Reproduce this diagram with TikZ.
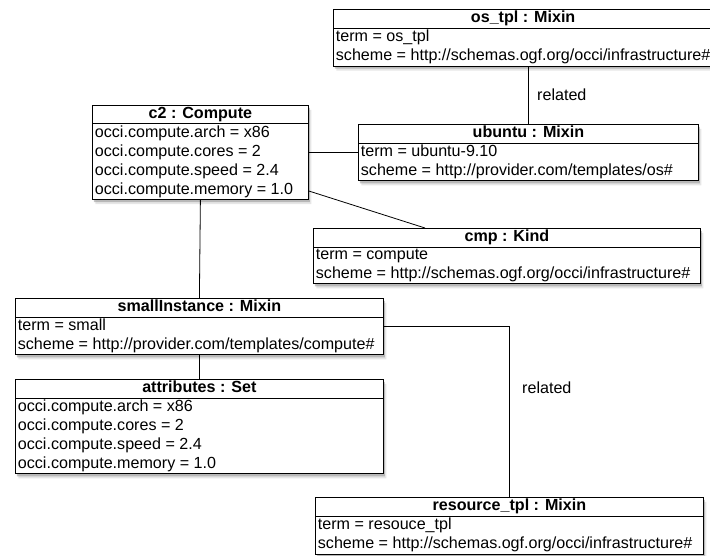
\documentclass[tikz,border=0pt]{standalone}
\usepackage{fontspec}
\setmainfont{Liberation Sans}
\usetikzlibrary{shapes.multipart,shadows}

\tikzset{
  umlobj/.style={rectangle split, rectangle split parts=2, draw, line width=0.8pt, fill=white,
    rectangle split part align={center,left}, align=left, inner xsep=2.5pt, inner ysep=1.5pt,
    font=\fontsize{16.1}{19}\selectfont, anchor=north west,
    drop shadow={shadow xshift=3pt, shadow yshift=-4.5pt, opacity=.2},
    drop shadow={shadow xshift=1.5pt, shadow yshift=-2.5pt, opacity=.45}},
  link/.style={line width=0.8pt},
  linklabel/.style={anchor=west, font=\fontsize{16.1}{19}\selectfont, inner sep=0pt}
}
\newcommand{\objtitle}[1]{\textbf{\rule[-3.2pt]{0pt}{11.5pt}#1}}

\begin{document}
\begin{tikzpicture}[x=1pt,y=-1pt]
	\useasboundingbox (0,0) rectangle (710,556);
	% objects
	\node[umlobj, minimum width=375pt] (ostpl) at (333,9)
		{\objtitle{os\_tpl : Mixin}\nodepart{two}term = os\_tpl\\scheme = http://schemas.ogf.org/occi/infrastructure\#};
	\node[umlobj, minimum width=340pt] (ubuntu) at (358,124)
		{\objtitle{ubuntu : Mixin}\nodepart{two}term = ubuntu-9.10\\scheme = http://provider.com/templates/os\#};
	\node[umlobj, minimum width=216pt] (c2) at (92,105)
		{\objtitle{c2 : Compute}\nodepart{two}occi.compute.arch = x86\\occi.compute.cores = 2\\occi.compute.speed = 2.4\\occi.compute.memory = 1.0};
	\node[umlobj, minimum width=387pt] (cmp) at (313,228)
		{\objtitle{cmp : Kind}\nodepart{two}term = compute\\scheme = http://schemas.ogf.org/occi/infrastructure\#};
	\node[umlobj, minimum width=368pt] (small) at (15,298)
		{\objtitle{smallInstance : Mixin}\nodepart{two}term = small\\scheme = http://provider.com/templates/compute\#};
	\node[umlobj, minimum width=368pt] (attr) at (15,379)
		{\objtitle{attributes : Set}\nodepart{two}occi.compute.arch = x86\\occi.compute.cores = 2\\occi.compute.speed = 2.4\\occi.compute.memory = 1.0};
	\node[umlobj, minimum width=388pt] (restpl) at (315,497)
		{\objtitle{resource\_tpl : Mixin}\nodepart{two}term = resouce\_tpl\\scheme = http://schemas.ogf.org/occi/infrastructure\#};
	% links
	\draw[link] (ubuntu.north) -- (ubuntu.north |- ostpl.south);
	\draw[link] (ubuntu.west) -- (ubuntu.west -| c2.east);
	\draw[link] ([yshift=9pt]c2.south east) -- ([xshift=112pt]cmp.north west);
	\draw[link] (c2.south) -- (small.north);
	\draw[link] (small.south) -- (attr.north);
	\draw[link] (small.east) -| (restpl.north);
	\node[linklabel] (rel1) at (537,95) {related};
	\node[linklabel] (rel2) at (522,388) {related};
\end{tikzpicture}
\end{document}
